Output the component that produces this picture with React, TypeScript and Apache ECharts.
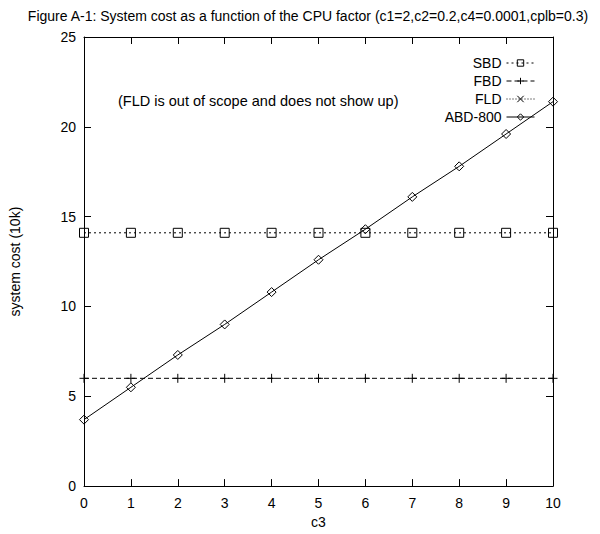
import React, { useEffect, useRef } from "react";
import * as echarts from "echarts";

const xValues = [0, 1, 2, 3, 4, 5, 6, 7, 8, 9, 10];
const sbd = [14.1, 14.1, 14.1, 14.1, 14.1, 14.1, 14.1, 14.1, 14.1, 14.1, 14.1];
const fbd = [6.0, 6.0, 6.0, 6.0, 6.0, 6.0, 6.0, 6.0, 6.0, 6.0, 6.0];
const fld: number[] = [];
const abd800 = [3.7, 5.5, 7.3, 9.0, 10.8, 12.6, 14.3, 16.1, 17.8, 19.6, 21.4];

const titleText =
  "Figure A-1: System cost as a function of the CPU factor (c1=2,c2=0.2,c4=0.0001,cplb=0.3)";
const noteText = "(FLD is out of scope and does not show up)";

const FONT = "'Liberation Sans', Arial, Helvetica, sans-serif";
const PLUS = "path://M5,0L5,10M0,5L10,5";
const CROSS = "path://M0,0L10,10M10,0L0,10";

const pairs = (ys: number[]) => ys.map((y, i) => [xValues[i], y]);

export default function App() {
  const ref = useRef<HTMLDivElement>(null);
  useEffect(() => {
    if (!ref.current) return;
    const chart = echarts.init(ref.current, null, { renderer: "svg" });
    const axisCommon = {
      axisLine: { show: true, onZero: false, lineStyle: { color: "#000", width: 1 } },
      axisTick: { show: true, inside: true, length: 7, lineStyle: { color: "#000" } },
      splitLine: { show: false },
    };
    const mk = (
      name: string,
      data: number[][],
      symbol: string,
      size: number,
      type: any
    ) => ({
      name,
      type: "line",
      data,
      symbol,
      symbolSize: size,
      showSymbol: true,
      lineStyle: { color: "#000", width: 1, type },
      itemStyle: { color: "none", borderColor: "#000", borderWidth: 1 },
      emphasis: { disabled: true },
    });
    chart.setOption({
      animation: false,
      backgroundColor: "#fff",
      textStyle: { fontFamily: FONT },
      grid: { left: 84, right: 47, top: 37, bottom: 44 },
      legend: {
        orient: "vertical",
        right: 60,
        top: 51,
        align: "right",
        itemWidth: 28,
        itemHeight: 8,
        itemGap: 4,
        selectedMode: false,
        itemStyle: { color: "none", borderColor: "#000", borderWidth: 1 },
        lineStyle: { width: 1, color: "#000" },
        textStyle: { fontSize: 14, color: "#000", fontFamily: FONT },
        data: ["SBD", "FBD", "FLD", "ABD-800"],
      },
      graphic: [
        {
          type: "text",
          x: 308,
          y: 16,
          style: {
            text: titleText,
            fontSize: 14,
            fontFamily: FONT,
            fill: "#000",
            align: "center",
            verticalAlign: "middle",
          },
        },
        {
          type: "text",
          x: 118,
          y: 101,
          style: {
            text: noteText,
            fontSize: 14.5,
            fontFamily: FONT,
            fill: "#000",
            align: "left",
            verticalAlign: "middle",
          },
        },
      ],
      xAxis: [
        {
          type: "value",
          min: 0,
          max: 10,
          interval: 1,
          name: "c3",
          nameLocation: "middle",
          nameGap: 24,
          nameTextStyle: { fontSize: 14, color: "#000", fontFamily: FONT },
          axisLabel: { fontSize: 14, color: "#000", margin: 10, fontFamily: FONT },
          ...axisCommon,
        },
        {
          type: "value",
          position: "top",
          min: 0,
          max: 10,
          interval: 1,
          axisLabel: { show: false },
          ...axisCommon,
        },
      ],
      yAxis: [
        {
          type: "value",
          min: 0,
          max: 25,
          interval: 5,
          name: "system cost (10k)",
          nameLocation: "middle",
          nameGap: 62,
          nameTextStyle: { fontSize: 14, color: "#000", fontFamily: FONT },
          axisLabel: { fontSize: 14, color: "#000", margin: 8, fontFamily: FONT },
          ...axisCommon,
        },
        {
          type: "value",
          position: "right",
          min: 0,
          max: 25,
          interval: 5,
          axisLabel: { show: false },
          ...axisCommon,
        },
      ],
      series: [
        mk("SBD", pairs(sbd), "rect", 9, [2, 3]),
        mk("FBD", pairs(fbd), PLUS, 9, [5, 3]),
        mk("FLD", pairs(fld), CROSS, 8, [1, 2]),
        mk("ABD-800", pairs(abd800), "diamond", 9, "solid"),
      ],
    });
    return () => chart.dispose();
  }, []);
  return (
    <div
      ref={ref}
      style={{ position: "fixed", left: 0, top: 0, width: 600, height: 534 }}
    />
  );
}
